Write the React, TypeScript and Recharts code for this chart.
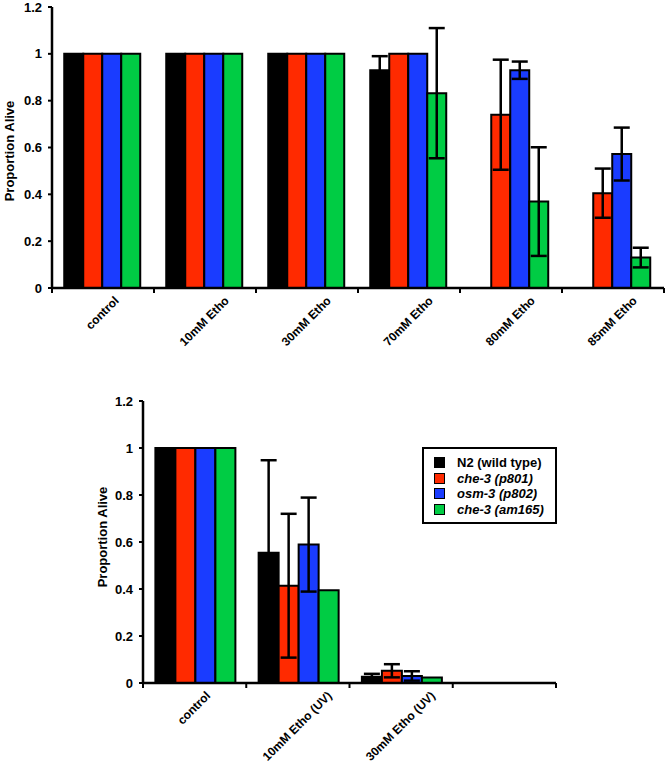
import React from "react";
import { Bar, BarChart, ErrorBar, Legend, XAxis, YAxis } from "recharts";

// top panel: ethosuximide dose series
const topCategories = ["control", "10mM Etho", "30mM Etho", "70mM Etho", "80mM Etho", "85mM Etho"];
const topN2 = [1, 1, 1, 0.93, 0, 0];
const topN2Err = [0, 0, 0, 0.06, 0, 0];
const topP801 = [1, 1, 1, 1, 0.74, 0.405];
const topP801Err = [0, 0, 0, 0, 0.235, 0.105];
const topP802 = [1, 1, 1, 1, 0.93, 0.572];
const topP802Err = [0, 0, 0, 0, 0.037, 0.113];
const topAm165 = [1, 1, 1, 0.832, 0.369, 0.13];
const topAm165Err = [0, 0, 0, 0.278, 0.232, 0.042];

// bottom panel: UV-treated ethosuximide
const bottomCategories = ["control", "10mM Etho (UV)", "30mM Etho (UV)", ""];
const bottomN2 = [1, 0.554, 0.027, 0];
const bottomN2Err = [0, 0.394, 0.012, 0];
const bottomP801 = [1, 0.414, 0.052, 0];
const bottomP801Err = [0, 0.306, 0.028, 0];
const bottomP802 = [1, 0.589, 0.03, 0];
const bottomP802Err = [0, 0.2, 0.02, 0];
const bottomAm165 = [1, 0.395, 0.023, 0];
const bottomAm165Err = [0, 0, 0, 0];

const yTicks = [0, 0.2, 0.4, 0.6, 0.8, 1, 1.2];

const series = [
  { key: "n2", name: "N2 (wild type)", color: "#000000", italic: false },
  { key: "p801", name: "che-3 (p801)", color: "#ff2a00", italic: true },
  { key: "p802", name: "osm-3 (p802)", color: "#1a3cff", italic: true },
  { key: "am165", name: "che-3 (am165)", color: "#00cc44", italic: true },
];

const FONT = "'Liberation Sans', Arial, Helvetica, sans-serif";

const topData = topCategories.map((category, i) => ({
  category,
  n2: topN2[i], n2Err: topN2Err[i],
  p801: topP801[i], p801Err: topP801Err[i],
  p802: topP802[i], p802Err: topP802Err[i],
  am165: topAm165[i], am165Err: topAm165Err[i],
}));

const bottomData = bottomCategories.map((category, i) => ({
  category,
  n2: bottomN2[i], n2Err: bottomN2Err[i],
  p801: bottomP801[i], p801Err: bottomP801Err[i],
  p802: bottomP802[i], p802Err: bottomP802Err[i],
  am165: bottomAm165[i], am165Err: bottomAm165Err[i],
}));

// rough text width, used to centre the slanted label box under its category
let measureCtx: CanvasRenderingContext2D | null = null;
function labelWidth(s: string) {
  if (!measureCtx && typeof document !== "undefined") {
    measureCtx = document.createElement("canvas").getContext("2d");
  }
  if (!measureCtx) return s.length * 6.5;
  measureCtx.font = `bold 12px ${FONT}`;
  return measureCtx.measureText(s).width;
}

const makeTick = (band: number, count: number) => (props: any) => {
  const { x, y, payload, index } = props;
  const value = String(payload.value ?? "");
  const ax = x + 0.354 * (labelWidth(value) + 6);
  const ay = y + 13.5;
  return (
    <g>
      <line x1={x - band / 2} x2={x - band / 2} y1={y} y2={y + 5} stroke="#000" strokeWidth={2} />
      {index === count - 1 && (
        <line x1={x + band / 2} x2={x + band / 2} y1={y} y2={y + 5} stroke="#000" strokeWidth={2} />
      )}
      <g transform={`translate(${ax},${ay}) rotate(-45)`}>
        <text x={0} y={0} textAnchor="end" fontSize={12} fontWeight="bold" fontFamily={FONT} fill="#000">
          {value}
        </text>
      </g>
    </g>
  );
};

const LegendBox = () => (
  <div
    style={{
      border: "2px solid #000",
      background: "#fff",
      padding: "6px 0 5px 10px",
      fontFamily: FONT,
      fontWeight: "bold",
      fontSize: 13,
      lineHeight: "15.5px",
      boxSizing: "border-box",
      width: 135,
    }}
  >
    {series.map((s) => (
      <div key={s.key} style={{ display: "flex", alignItems: "center" }}>
        <span
          style={{
            display: "inline-block",
            width: 9,
            height: 9,
            background: s.color,
            border: "1px solid #000",
            marginRight: 12,
          }}
        />
        <span style={{ fontStyle: s.italic ? "italic" : "normal" }}>{s.name}</span>
      </div>
    ))}
  </div>
);

const yLabelStyle = (left: number, top: number): React.CSSProperties => ({
  position: "absolute",
  left,
  top,
  transform: "translate(-50%, -50%) rotate(-90deg)",
  fontFamily: FONT,
  fontWeight: "bold",
  fontSize: 13,
  whiteSpace: "nowrap",
  color: "#000",
});

const axisTick = { fill: "#000", fontSize: 13, fontWeight: "bold", fontFamily: FONT };

function renderBars() {
  return series.map((s) => (
    <Bar
      key={s.key}
      dataKey={s.key}
      name={s.name}
      fill={s.color}
      stroke="#000"
      strokeWidth={2}
      isAnimationActive={false}
    >
      <ErrorBar dataKey={`${s.key}Err`} width={8} stroke="#000" strokeWidth={2.5} isAnimationActive={false} />
    </Bar>
  ));
}

export default function App() {
  return (
    <div style={{ position: "absolute", left: 0, top: 0, width: 670, height: 769, background: "#fff" }}>
      <div style={{ position: "absolute", left: 0, top: 0 }}>
        <BarChart
          width={670}
          height={380}
          data={topData}
          margin={{ top: 7, right: 6, left: 0, bottom: 0 }}
          barCategoryGap="12%"
          barGap={0}
        >
          <XAxis
            dataKey="category"
            height={92}
            interval={0}
            tickLine={false}
            tickSize={0}
            tickMargin={0}
            axisLine={{ stroke: "#000", strokeWidth: 2.5 }}
            tick={makeTick(612 / 6, 6)}
          />
          <YAxis
            width={52}
            domain={[0, 1.2]}
            ticks={yTicks}
            interval={0}
            tickSize={4}
            tickMargin={6}
            axisLine={{ stroke: "#000", strokeWidth: 2.5 }}
            tickLine={{ stroke: "#000", strokeWidth: 2 }}
            tick={axisTick}
          />
          {renderBars()}
        </BarChart>
      </div>
      <div style={yLabelStyle(9, 151)}>Proportion Alive</div>

      <div style={{ position: "absolute", left: 0, top: 380 }}>
        <BarChart
          width={670}
          height={389}
          data={bottomData}
          margin={{ top: 21, right: 114, left: 91, bottom: 0 }}
          barCategoryGap="12%"
          barGap={0}
        >
          <XAxis
            dataKey="category"
            height={86}
            interval={0}
            tickLine={false}
            tickSize={0}
            tickMargin={0}
            axisLine={{ stroke: "#000", strokeWidth: 2.5 }}
            tick={makeTick(413 / 4, 4)}
          />
          <YAxis
            width={52}
            domain={[0, 1.2]}
            ticks={yTicks}
            interval={0}
            tickSize={4}
            tickMargin={6}
            axisLine={{ stroke: "#000", strokeWidth: 2.5 }}
            tickLine={{ stroke: "#000", strokeWidth: 2 }}
            tick={axisTick}
          />
          {renderBars()}
          <Legend
            layout="vertical"
            align="center"
            verticalAlign="middle"
            wrapperStyle={{ left: 422, top: 67, width: 135 }}
            content={() => <LegendBox />}
          />
        </BarChart>
      </div>
      <div style={yLabelStyle(101.5, 536.5)}>Proportion Alive</div>
    </div>
  );
}
